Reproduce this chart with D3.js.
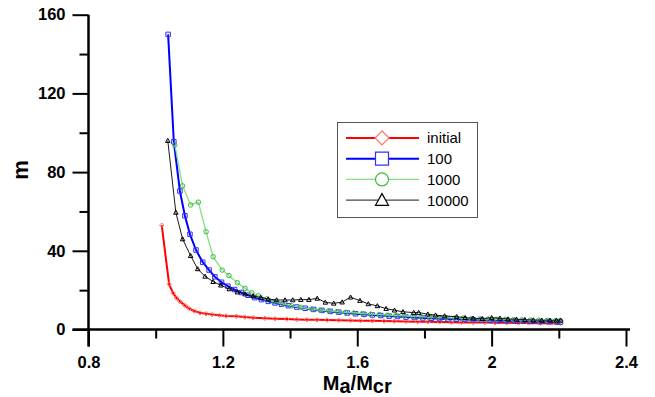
<!DOCTYPE html>
<html>
<head>
<meta charset="utf-8">
<script src="https://cdn.jsdelivr.net/npm/d3@7"></script>
<style>
  html, body { margin: 0; padding: 0; background: #fff; }
  svg { display: block; font-family: 'Liberation Sans', Arial, sans-serif; }
</style>
</head>
<body>
<div id="chart"></div>
<script>
// ━━━━━━━━━━━━━━━━━━━━━━━━━━━━━━━━━━━━━━━━━━━━━━━━━━━━━━━━━━━━━━━━━━━━━━━━━━━━━━
// Data: [Ma/Mcr, m] ////////////////////////////////////////////////////////////
// ━━━━━━━━━━━━━━━━━━━━━━━━━━━━━━━━━━━━━━━━━━━━━━━━━━━━━━━━━━━━━━━━━━━━━━━━━━━━━━

const serie_initial = [
  [1.018, 53], [1.040, 23], [1.052, 18.5], [1.062, 16], [1.072, 14.3], [1.087, 12.2],
  [1.100, 10.6], [1.115, 9.4], [1.132, 8.5], [1.150, 8], [1.168, 7.6], [1.190, 7.2],
  [1.210, 6.9], [1.240, 6.7], [1.265, 6.3], [1.290, 6], [1.325, 5.7], [1.355, 5.5],
  [1.390, 5.3], [1.420, 5.1], [1.450, 5], [1.480, 4.9], [1.510, 4.8], [1.545, 4.7],
  [1.580, 4.6], [1.610, 4.5], [1.645, 4.4], [1.680, 4.3], [1.710, 4.2], [1.745, 4.1],
  [1.780, 4.0], [1.810, 3.9], [1.845, 3.8], [1.880, 3.7], [1.910, 3.6], [1.945, 3.5],
  [1.980, 3.5], [2.010, 3.4], [2.045, 3.4], [2.080, 3.3], [2.110, 3.3], [2.145, 3.2],
  [2.180, 3.2], [2.205, 3.1]
];

const serie_100 = [
  [1.037, 150], [1.054, 95.4], [1.072, 70.4], [1.087, 57.8], [1.102, 48.4], [1.120, 40.4],
  [1.140, 34.2], [1.159, 30.2], [1.176, 26.8], [1.196, 24], [1.215, 22], [1.235, 20.3],
  [1.255, 18.8], [1.275, 17.4], [1.295, 16.2], [1.315, 15.2], [1.335, 14.3], [1.355, 13.5],
  [1.375, 12.8], [1.395, 12.1], [1.420, 11.4], [1.445, 10.8], [1.470, 10.2], [1.495, 9.7],
  [1.520, 9.2], [1.545, 8.8], [1.570, 8.4], [1.595, 8.0], [1.620, 7.7], [1.645, 7.4],
  [1.670, 7.1], [1.695, 6.8], [1.720, 6.6], [1.745, 6.3], [1.770, 6.1], [1.795, 5.9],
  [1.820, 5.7], [1.845, 5.5], [1.870, 5.4], [1.895, 5.2], [1.920, 5.1], [1.945, 4.9],
  [1.970, 4.8], [1.995, 4.7], [2.020, 4.5], [2.045, 4.4], [2.070, 4.3], [2.095, 4.2],
  [2.120, 4.1], [2.145, 4.0], [2.170, 3.9], [2.195, 3.8], [2.205, 3.8]
];

const serie_1000 = [
  [1.057, 93.8], [1.080, 73], [1.104, 63.3], [1.127, 64.7], [1.150, 49.7], [1.171, 37],
  [1.198, 30.2], [1.218, 27.4], [1.243, 23.8], [1.266, 20.9], [1.286, 18.7], [1.305, 17.2],
  [1.330, 15.5], [1.352, 14.1], [1.378, 13], [1.405, 12], [1.432, 11.3], [1.464, 10.4],
  [1.489, 9.9], [1.515, 9.5], [1.540, 9.1], [1.565, 8.7], [1.590, 8.4], [1.615, 8.1],
  [1.640, 7.8], [1.665, 7.6], [1.690, 7.3], [1.715, 7.1], [1.740, 6.9], [1.765, 6.7],
  [1.790, 6.5], [1.815, 6.3], [1.840, 6.1], [1.865, 6.0], [1.890, 5.8], [1.915, 5.7],
  [1.940, 5.5], [1.965, 5.4], [1.990, 5.3], [2.015, 5.2], [2.040, 5.1], [2.065, 5.0],
  [2.090, 4.9], [2.115, 4.8], [2.140, 4.7], [2.165, 4.6], [2.190, 4.5], [2.205, 4.5]
];

const serie_10000 = [
  [1.036, 96], [1.060, 59.5], [1.080, 46], [1.104, 37.5], [1.125, 30.8], [1.147, 27],
  [1.171, 24.3], [1.194, 22.5], [1.219, 20.6], [1.243, 19], [1.266, 18], [1.290, 17],
  [1.313, 16.3], [1.335, 15.5], [1.360, 15], [1.385, 15], [1.408, 15], [1.432, 15.2],
  [1.456, 15.2], [1.481, 15.8], [1.505, 13.8], [1.530, 13.3], [1.555, 13.9], [1.580, 16.4],
  [1.608, 14.7], [1.633, 13], [1.660, 12], [1.686, 10.6], [1.711, 9.8], [1.736, 9.0],
  [1.768, 8.6], [1.783, 8.6], [1.810, 7.8], [1.833, 7.3], [1.860, 6.9], [1.896, 6.5],
  [1.921, 6.0], [1.945, 5.7], [1.972, 5.5], [2.000, 6.0], [2.025, 5.7], [2.049, 5.3],
  [2.074, 5.2], [2.099, 5.0], [2.124, 4.8], [2.149, 4.7], [2.174, 4.7], [2.193, 4.7],
  [2.205, 4.7]
];

const series_names = ['initial', '100', '1000', '10000'];
const x_ticks = [0.8, 1.2, 1.6, 2, 2.4];
const x_minor = [1.0, 1.4, 1.8, 2.2];
const y_ticks = [0, 40, 80, 120, 160];
const y_minor = [20, 60, 100, 140];

// ━━━━━━━━━━━━━━━━━━━━━━━━━━━━━━━━━━━━━━━━━━━━━━━━━━━━━━━━━━━━━━━━━━━━━━━━━━━━━━
// SVG setup ////////////////////////////////////////////////////////////////////
// ━━━━━━━━━━━━━━━━━━━━━━━━━━━━━━━━━━━━━━━━━━━━━━━━━━━━━━━━━━━━━━━━━━━━━━━━━━━━━━

const width = 655;
const height = 397;

const svg = d3.select('#chart').append('svg')
  .attr('viewBox', [0, 0, width, height])
  .attr('width', width)
  .attr('height', height);

const x = d3.scaleLinear().domain([0.8, 2.4]).range([88.5, 626]);
const y = d3.scaleLinear().domain([0, 160]).range([329.5, 14.7]);

const styles = [
  { line: '#ff0000', lw: 2,   mark: '#ff7070', shape: 'diamond',  data: serie_initial },
  { line: '#0000ff', lw: 2,   mark: '#3030ff', shape: 'square',   data: serie_100 },
  { line: '#86de86', lw: 1.3, mark: '#3cba3c', shape: 'circle',   data: serie_1000 },
  { line: '#1a1a1a', lw: 1,   mark: '#000000', shape: 'triangle', data: serie_10000 }
];

// marker path, centred on 0,0
function markerPath(shape, s) {
  const h = s / 2;
  if (shape === 'diamond') return `M0,${-h}L${h},0L0,${h}L${-h},0Z`;
  if (shape === 'square') return `M${-h},${-h}H${h}V${h}H${-h}Z`;
  if (shape === 'triangle') return `M0,${-h}L${h},${h * 0.8}H${-h}Z`;
  return `M${h},0A${h},${h} 0 1,1 ${-h},0A${h},${h} 0 1,1 ${h},0Z`;
}

// ━━━━━━━━━━━━━━━━━━━━━━━━━━━━━━━━━━━━━━━━━━━━━━━━━━━━━━━━━━━━━━━━━━━━━━━━━━━━━━
// Series ///////////////////////////////////////////////////////////////////////
// ━━━━━━━━━━━━━━━━━━━━━━━━━━━━━━━━━━━━━━━━━━━━━━━━━━━━━━━━━━━━━━━━━━━━━━━━━━━━━━

const lineGen = d3.line().x(d => x(d[0])).y(d => y(d[1]));
const series = svg.append('g').attr('id', 'series');

styles.forEach((s, i) => {
  const g = series.append('g').attr('data-serie', series_names[i]);
  g.append('path')
    .datum(s.data)
    .attr('d', lineGen)
    .attr('fill', 'none')
    .attr('stroke', s.line)
    .attr('stroke-width', s.lw)
    .attr('stroke-linejoin', 'round');
  g.selectAll('path.mark')
    .data(s.data)
    .join('path')
    .attr('class', 'mark')
    .attr('transform', d => `translate(${x(d[0])},${y(d[1])})`)
    .attr('d', markerPath(s.shape, 4.5))
    .attr('fill', 'none')
    .attr('stroke', s.mark)
    .attr('stroke-width', 1);
});

// ━━━━━━━━━━━━━━━━━━━━━━━━━━━━━━━━━━━━━━━━━━━━━━━━━━━━━━━━━━━━━━━━━━━━━━━━━━━━━━
// Axes /////////////////////////////////////////////////////////////////////////
// ━━━━━━━━━━━━━━━━━━━━━━━━━━━━━━━━━━━━━━━━━━━━━━━━━━━━━━━━━━━━━━━━━━━━━━━━━━━━━━

const axes = svg.append('g').attr('id', 'axes');

const xAxis = axes.append('g')
  .attr('transform', `translate(0,${y(0)})`)
  .call(d3.axisBottom(x).tickValues(x_ticks).tickSize(17).tickPadding(10).tickFormat(d3.format('')));
const xMinor = axes.append('g')
  .attr('transform', `translate(0,${y(0)})`)
  .call(d3.axisBottom(x).tickValues(x_minor).tickSize(9).tickFormat(''));

const yAxis = axes.append('g')
  .attr('transform', `translate(${x(0.8)},0)`)
  .call(d3.axisLeft(y).tickValues(y_ticks).tickSize(16).tickPadding(7).tickFormat(d3.format('d')));
const yMinor = axes.append('g')
  .attr('transform', `translate(${x(0.8)},0)`)
  .call(d3.axisLeft(y).tickValues(y_minor).tickSize(9).tickFormat(''));

[xAxis, xMinor, yAxis, yMinor].forEach(a => {
  a.select('.domain').remove();
  a.selectAll('line').attr('stroke', '#000').attr('stroke-width', 2);
  a.selectAll('text')
    .attr('fill', '#000')
    .style('font-family', "'Liberation Sans', Arial, sans-serif")
    .style('font-size', '16.5px')
    .style('font-weight', 'bold');
});

// axis lines, a bit longer than the domain like the original
axes.append('line')
  .attr('x1', x(0.8)).attr('x2', x(0.8))
  .attr('y1', y(160)).attr('y2', y(0) + 17)
  .attr('stroke', '#000').attr('stroke-width', 2.5);
axes.append('line')
  .attr('x1', x(0.8) - 16).attr('x2', x(2.4) + 4)
  .attr('y1', y(0)).attr('y2', y(0))
  .attr('stroke', '#000').attr('stroke-width', 2.5);

// titles
const xTitle = svg.append('text')
  .attr('x', x(1.6))
  .attr('y', 390)
  .attr('text-anchor', 'middle')
  .style('font-size', '20px')
  .style('font-weight', 'bold');
xTitle.append('tspan').text('M');
xTitle.append('tspan').attr('dy', 3).text('a');
xTitle.append('tspan').attr('dy', -3).text('/M');
xTitle.append('tspan').attr('dy', 3).text('cr');

svg.append('text')
  .attr('transform', `translate(28,170) rotate(-90)`)
  .attr('text-anchor', 'middle')
  .style('font-size', '22px')
  .style('font-weight', 'bold')
  .text('m');

// ━━━━━━━━━━━━━━━━━━━━━━━━━━━━━━━━━━━━━━━━━━━━━━━━━━━━━━━━━━━━━━━━━━━━━━━━━━━━━━
// Legend ///////////////////////////////////////////////////////////////////////
// ━━━━━━━━━━━━━━━━━━━━━━━━━━━━━━━━━━━━━━━━━━━━━━━━━━━━━━━━━━━━━━━━━━━━━━━━━━━━━━

const legend = svg.append('g').attr('id', 'legend').attr('transform', 'translate(337,122)');

legend.append('rect')
  .attr('x', 0.5).attr('y', 0.5)
  .attr('width', 140).attr('height', 95)
  .attr('fill', '#fff')
  .attr('stroke', '#555')
  .attr('stroke-width', 1);

const items = legend.selectAll('g.item')
  .data(styles)
  .join('g')
  .attr('class', 'item')
  .attr('transform', (d, i) => `translate(0,${16 + i * 20.7})`);

items.append('line')
  .attr('x1', 9).attr('x2', 82)
  .attr('stroke', d => d.line)
  .attr('stroke-width', d => d.lw);

items.append('path')
  .attr('transform', 'translate(45,0)')
  .attr('d', d => markerPath(d.shape, d.shape === 'diamond' ? 14 : 13))
  .attr('fill', '#fff')
  .attr('stroke', d => d.mark)
  .attr('stroke-width', 1.2);

items.append('text')
  .attr('x', 90)
  .attr('dy', '0.36em')
  .style('font-size', '15px')
  .text((d, i) => series_names[i]);
</script>
</body>
</html>
